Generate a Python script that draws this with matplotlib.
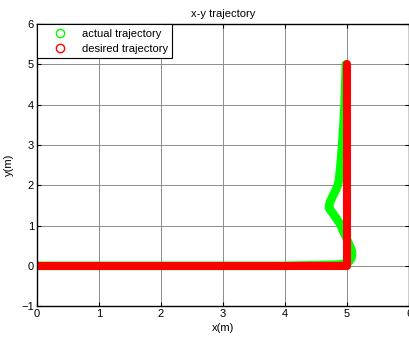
import matplotlib
matplotlib.use('Agg')
import matplotlib.pyplot as plt
from matplotlib.lines import Line2D

plt.rcParams['font.family'] = ['Liberation Sans', 'DejaVu Sans']
plt.rcParams['font.size'] = 8

# trajetória desejada: reta em x até 5 e depois sobe até y = 5
x_des = [0, 5, 5]
y_des = [0, 0, 5]

# trajetória real (lida ponto a ponto)
x_act = [0, 1, 2, 3, 4, 4.6, 4.85, 4.97, 5.04, 5.07, 5.08, 5.07, 5.03, 4.98,
         4.94, 4.89, 4.83, 4.78, 4.74, 4.71, 4.71, 4.73, 4.77, 4.81, 4.85,
         4.87, 4.88, 4.90, 4.92, 4.94, 4.96, 4.97, 4.98]
y_act = [0, 0, 0, 0, 0, 0.02, 0.03, 0.06, 0.12, 0.2, 0.3, 0.4, 0.54, 0.72,
         0.85, 1.03, 1.17, 1.28, 1.36, 1.43, 1.5, 1.6, 1.74, 1.86, 2.0,
         2.15, 2.3, 2.6, 3.0, 3.5, 4.0, 4.5, 5.0]

fig = plt.figure(figsize=(4.10, 3.39), dpi=100)
ax = fig.add_axes([0.090, 0.097, 0.908, 0.832])

ax.plot(x_act, y_act, color='#00ff00', lw=6.2,
        solid_capstyle='round', solid_joinstyle='round')
ax.plot(x_des, y_des, color='#ff0000', lw=5.8,
        solid_capstyle='round', solid_joinstyle='round')

ax.set_xlim(0, 6)
ax.set_ylim(-1, 6)
ax.set_xticks(range(0, 7))
ax.set_yticks(range(-1, 7))
ax.grid(True, color='0.55', linestyle='-', linewidth=0.7)
ax.tick_params(direction='in', top=True, right=True, length=3, width=0.8, pad=2)
for s in ax.spines.values():
    s.set_linewidth(1.0)

ax.set_title('x-y trajectory', fontsize=8, pad=5)
ax.set_xlabel('x(m)', labelpad=3)
ax.set_ylabel('y(m)', labelpad=5)

handles = [
    Line2D([], [], ls='none', marker='o', mfc='none', mec='#00ff00', ms=6, mew=1),
    Line2D([], [], ls='none', marker='o', mfc='none', mec='#ff0000', ms=6, mew=1),
]
leg = ax.legend(handles, ['actual trajectory', 'desired trajectory'],
                loc='upper left', borderaxespad=0, fancybox=False, framealpha=1,
                edgecolor='black', handlelength=3.4, handletextpad=0.25,
                labelspacing=0.45, borderpad=0.4)
leg.get_frame().set_linewidth(0.8)

plt.savefig('out.png', dpi=100)
